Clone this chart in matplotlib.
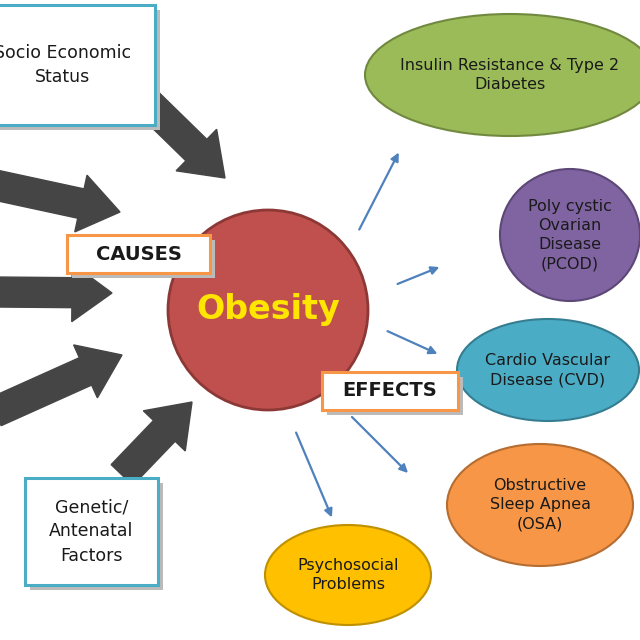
import matplotlib
matplotlib.use("Agg")
import matplotlib.pyplot as plt
from matplotlib.patches import Ellipse, Circle, Rectangle, FancyArrow, FancyArrowPatch

effect_labels = ["Insulin Resistance & Type 2\nDiabetes", "Poly cystic\nOvarian\nDisease\n(PCOD)",
                 "Cardio Vascular\nDisease (CVD)", "Obstructive\nSleep Apnea\n(OSA)", "Psychosocial\nProblems"]
effect_colors = ["#9bbb59", "#8064a2", "#4bacc6", "#f79646", "#ffc000"]
effect_edges = ["#71893f", "#5c4776", "#357d91", "#b66d31", "#bf9000"]
effect_centers = [(510, 75), (570, 235), (548, 370), (540, 505), (348, 575)]
effect_sizes = [(290, 122), (140, 132), (182, 102), (186, 122), (166, 100)]
effect_arrows = [((358, 232), (400, 150)), ((395, 285), (442, 266)), ((385, 330), (440, 355)),
                 ((350, 415), (410, 475)), ((295, 430), (333, 520))]
cause_arrows = [((140, 95), (225, 178)), ((-5, 185), (120, 212)), ((-5, 292), (112, 293)),
                ((-5, 412), (122, 355)), ((122, 475), (192, 402))]

fig = plt.figure(figsize=(6.4, 6.4), dpi=100)
ax = fig.add_axes([0, 0, 1, 1])
ax.set_xlim(0, 640); ax.set_ylim(640, 0); ax.axis("off")

for (x0, y0), (x1, y1) in cause_arrows:
    ax.add_patch(FancyArrow(x0, y0, x1 - x0, y1 - y0, width=30, head_width=58, head_length=40,
                            length_includes_head=True, color="#454545", zorder=2))

for (p0, p1) in effect_arrows:
    ax.add_patch(FancyArrowPatch(p0, p1, arrowstyle="-|>", mutation_scale=12, lw=1.6,
                                 color="#4f81bd", zorder=2))

ax.add_patch(Circle((268, 310), 100, fc="#c0504d", ec="#8c3836", lw=2, zorder=3))
ax.text(268, 310, "Obesity", color="#ffe600", fontsize=24, fontweight="bold",
        ha="center", va="center", zorder=4)

for (c, s, lab, fc, ec) in zip(effect_centers, effect_sizes, effect_labels, effect_colors, effect_edges):
    ax.add_patch(Ellipse(c, s[0], s[1], fc=fc, ec=ec, lw=1.5, zorder=3))
    ax.text(c[0], c[1], lab, ha="center", va="center", fontsize=11.5, color="#1a1a1a",
            linespacing=1.35, zorder=4)

def box(x0, y0, x1, y1, ec, text, fs, bold=False):
    ax.add_patch(Rectangle((x0 + 5, y0 + 5), x1 - x0, y1 - y0, fc="#bbbbbb", ec="none", zorder=4))
    ax.add_patch(Rectangle((x0, y0), x1 - x0, y1 - y0, fc="white", ec=ec, lw=2.2, zorder=5))
    ax.text((x0 + x1) / 2, (y0 + y1) / 2, text, ha="center", va="center", fontsize=fs,
            fontweight="bold" if bold else "normal", color="#1a1a1a", linespacing=1.45, zorder=6)

box(-30, 5, 155, 125, "#4bacc6", "Socio Economic\nStatus", 12.5)
box(67, 235, 210, 273, "#f79646", "CAUSES", 14, True)
box(322, 372, 458, 410, "#f79646", "EFFECTS", 14, True)
box(25, 478, 158, 585, "#4bacc6", "Genetic/\nAntenatal\nFactors", 12.5)

fig.savefig("out.png", dpi=100, facecolor="white")
